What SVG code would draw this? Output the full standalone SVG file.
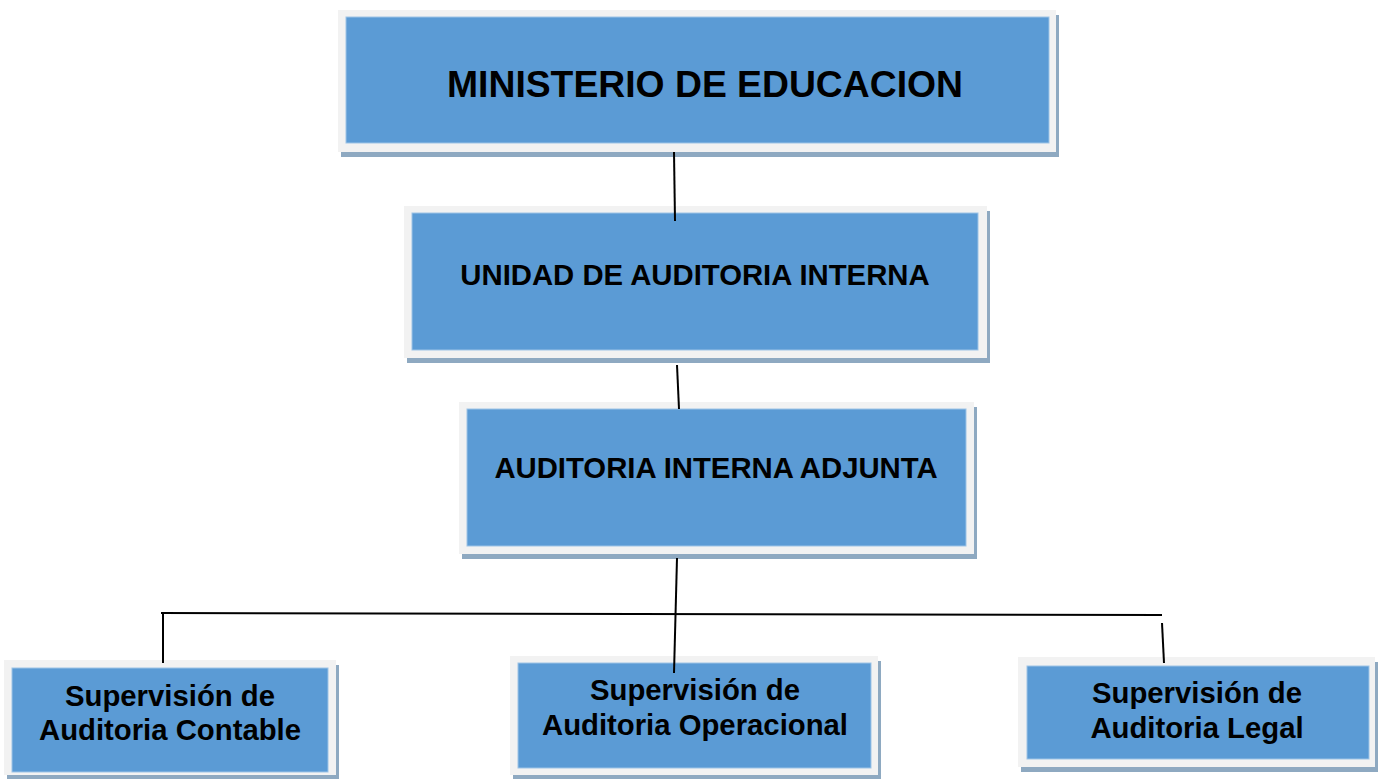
<svg xmlns="http://www.w3.org/2000/svg" width="1379" height="779" viewBox="0 0 1379 779">
<style>
.sh{fill:#8ea9c1}
.fr{fill:#f2f2f2}
.in{fill:#5b9bd5;stroke:#9dc3e6;stroke-width:1}
.t{font-family:"Liberation Sans",Arial,sans-serif;font-weight:bold;fill:#000;text-anchor:middle}
.c{stroke:#000;stroke-width:2;fill:none}
</style>
<rect width="1379" height="779" fill="#fff"/>
<g id="n1">
<rect class="sh" x="341" y="15" width="718" height="142"/>
<rect class="fr" x="338" y="10" width="718" height="142"/>
<rect class="in" x="346" y="17" width="703" height="126"/>
<text class="t" x="705" y="97" font-size="37.3">MINISTERIO DE EDUCACION</text>
</g>
<g id="n2">
<rect class="sh" x="407" y="211" width="583" height="152"/>
<rect class="fr" x="404" y="206" width="583" height="152"/>
<rect class="in" x="412" y="213" width="566" height="137"/>
<text class="t" x="695" y="285" font-size="29.3">UNIDAD DE AUDITORIA INTERNA</text>
</g>
<g id="n3">
<rect class="sh" x="462" y="407" width="515" height="152"/>
<rect class="fr" x="459" y="402" width="515" height="152"/>
<rect class="in" x="467" y="409" width="499" height="137"/>
<text class="t" x="716" y="478" font-size="29.3">AUDITORIA INTERNA ADJUNTA</text>
</g>
<g id="n4">
<rect class="sh" x="7" y="665" width="332" height="115"/>
<rect class="fr" x="4" y="660" width="332" height="115"/>
<rect class="in" x="12" y="668" width="316" height="104"/>
<text class="t" x="170" y="706" font-size="29.3">Supervisión de</text>
<text class="t" x="170" y="740" font-size="29.3">Auditoria Contable</text>
</g>
<g id="n5">
<rect class="sh" x="513" y="661" width="368" height="118"/>
<rect class="fr" x="510" y="656" width="368" height="119"/>
<rect class="in" x="518" y="663" width="353" height="105"/>
<text class="t" x="695" y="700" font-size="29.3">Supervisión de</text>
<text class="t" x="695" y="735" font-size="29.3">Auditoria Operacional</text>
</g>
<g id="n6">
<rect class="sh" x="1021" y="662" width="357" height="110"/>
<rect class="fr" x="1018" y="657" width="357" height="110"/>
<rect class="in" x="1027" y="666" width="342" height="93"/>
<text class="t" x="1197" y="703" font-size="29.3">Supervisión de</text>
<text class="t" x="1197" y="738" font-size="29.3">Auditoria Legal</text>
</g>
<g id="connectors">
<line class="c" x1="674" y1="152" x2="675" y2="221"/>
<line class="c" x1="677" y1="365" x2="679" y2="409"/>
<line class="c" x1="677" y1="558" x2="674" y2="673"/>
<line class="c" x1="161" y1="613" x2="1162" y2="615"/>
<line class="c" x1="163" y1="614" x2="163" y2="663"/>
<line class="c" x1="1162" y1="623" x2="1164" y2="663"/>
</g>
</svg>
